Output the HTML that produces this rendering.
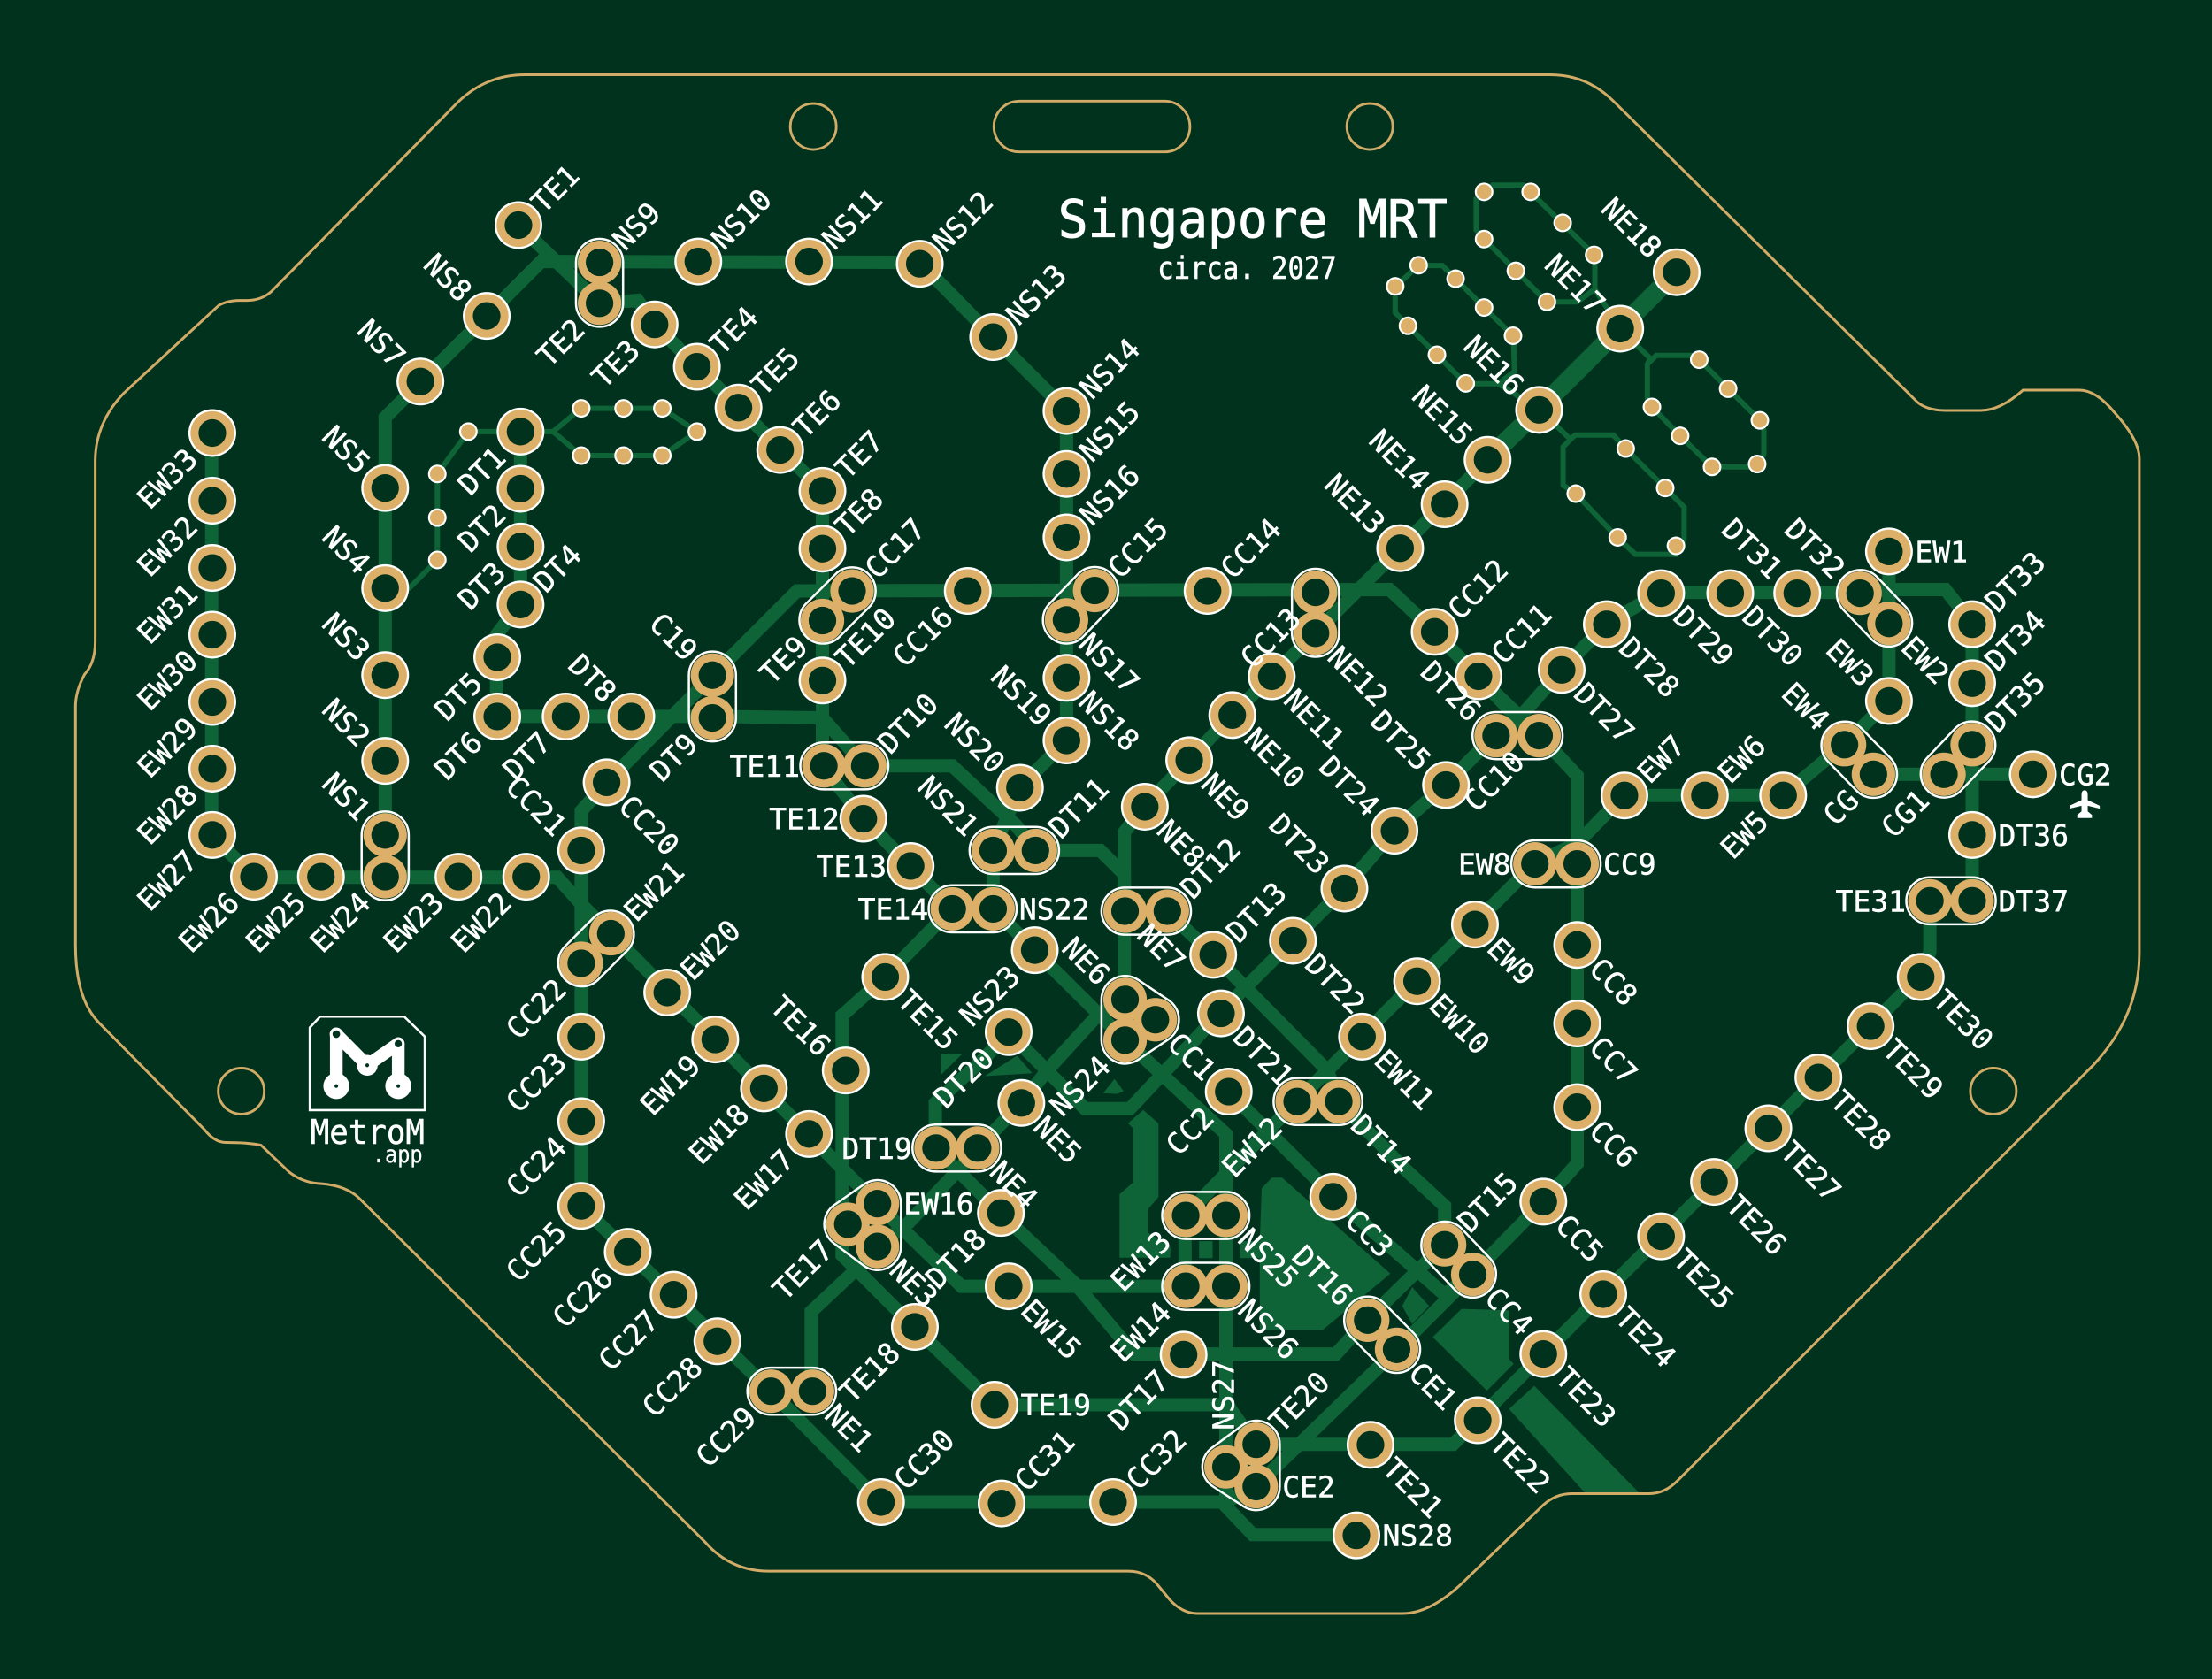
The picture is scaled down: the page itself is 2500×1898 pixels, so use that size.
<!DOCTYPE html>
<html lang="en">
<head>
<meta charset="utf-8">
<title>Singapore MRT PCB</title>
<style>
html,body{margin:0;padding:0;background:#01321e;width:2500px;height:1898px;overflow:hidden}
svg{display:block}
text{font-family:"DejaVu Sans Mono","Liberation Mono",monospace;fill:#fff}
</style>
</head>
<body>
<svg id="board" xmlns="http://www.w3.org/2000/svg" width="2500" height="1898" viewBox="0 0 2500 1898">
  <rect x="0" y="0" width="2500" height="1898" fill="#01321e"/>
  <g id="pours" fill="#0e6437"></g>
  <g id="tracks" fill="none" stroke="#0e6437" stroke-linejoin="miter"></g>
  <path id="outline" fill="none" stroke="#d2ab67" stroke-width="3"/>
  <g transform="scale(1.5944)">
    <g fill="none" stroke="#d2ab67" stroke-width="1.8">
      <circle cx="576.5" cy="89.7" r="16.3"/>
      <circle cx="971" cy="89.7" r="16.3"/>
      <circle cx="171" cy="773.6" r="16.3"/>
      <circle cx="1413" cy="773.6" r="16.3"/>
      <rect x="704.5" y="71.7" width="139" height="36" rx="18" ry="18"/>
    </g>
    <text x="750" y="168" font-size="37" stroke="#fff" stroke-width="0.6" textLength="276" lengthAdjust="spacingAndGlyphs">Singapore MRT</text>
    <text x="820.5" y="197.6" font-size="22" stroke="#fff" stroke-width="0.35" textLength="127" lengthAdjust="spacingAndGlyphs">circa. 2027</text>
    <g>
      <path d="M219.6 728.6 L226.9 720.8 L286.5 720.8 L301.1 734.9 L301.1 787.1 L219.6 787.1 Z" fill="none" stroke="#fff" stroke-width="1.6"/>
      <path d="M238.4 770 L238.4 733.2 L260.3 755.3 L282.3 740 L282.3 770" fill="none" stroke="#fff" stroke-width="9" stroke-linejoin="round"/>
      <circle cx="238.4" cy="770" r="9.2" fill="#fff"/>
      <circle cx="282.3" cy="770" r="9.2" fill="#fff"/>
      <circle cx="260.3" cy="755.3" r="7.4" fill="#fff"/>
      <circle cx="238.4" cy="733.2" r="4.7" fill="#fff"/>
      <circle cx="282.3" cy="740" r="4.5" fill="#fff"/>
      <circle cx="238.4" cy="733.2" r="2.7" fill="#01321e"/>
      <circle cx="282.3" cy="740" r="2.6" fill="#01321e"/>
      <circle cx="238.4" cy="770" r="1.3" fill="#01321e"/>
      <circle cx="282.3" cy="770" r="1.3" fill="#01321e"/>
      <circle cx="260.3" cy="755.3" r="1.3" fill="#01321e"/>
      <text x="220" y="811" font-size="24" stroke="#fff" stroke-width="0.3" textLength="81" lengthAdjust="spacingAndGlyphs">MetroM</text>
      <text x="264" y="824" font-size="17" stroke="#fff" stroke-width="0.2" textLength="35.5" lengthAdjust="spacingAndGlyphs">.app</text>
    </g>
    <path fill="#fff" d="M1477.7 560.3 q2.2 0 2.2 3 v4 l8.5 4 v2 l-8.5 -2 v4 l3 2.5 v2.2 h-10.4 v-2.2 l3 -2.5 v-4 l-8.5 2 v-2 l8.5 -4 v-4 q0 -3 2.2 -3 z"/>
  </g>
  <g id="vias"></g>
  <g id="outlines" fill="none" stroke="#fff" stroke-width="2.5"></g>
  <g id="pads"></g>
  <g id="labels"></g>
</svg>
<script>
// Station lists: name, board x, board y, label direction
const ewStations=[['EW1',1339,391,'r'],['EW2',1339,442,'dr'],['EW3',1339,497,'ul'],['EW4',1307.5,528,'ul'],['EW5',1264,564,'dl'],['EW6',1208.5,564,'ur'],['EW7',1151.5,564,'ur'],['EW8',1088,612.5,'l'],['EW9',1045.5,655.5,'dr'],['EW10',1004.5,695.7,'dr'],['EW11',965.5,735,'dr'],['EW12',919.5,781,'dl'],['EW13',840.5,861.8,'dl'],['EW14',840.5,912,'dl'],['EW15',715,912,'dr'],['EW16',622,853.4,'r'],['EW17',573.5,804,'dl'],['EW18',541.5,771.7,'dl'],['EW19',507,737,'dl'],['EW20',473,703.7,'ur'],['EW21',433,662,'ur'],['EW22',373,621.6,'dl'],['EW23',325,621.6,'dl'],['EW24',273,621.6,'dl'],['EW25',227.5,621.6,'dl'],['EW26',180,621.6,'dl'],['EW27',150.5,592,'dl'],['EW28',150.5,545,'dl'],['EW29',150.5,497.7,'dl'],['EW30',150.5,450,'dl'],['EW31',150.5,402.7,'dl'],['EW32',150.5,355,'dl'],['EW33',150.5,307,'dl']];
const cgStations=[['CG',1328,549,'dl'],['CG1',1378,549,'dl'],['CG2',1441,549,'r']];
const nsStations=[['NS1',273,592,'ul'],['NS2',273,539.5,'ul'],['NS3',273,478.7,'ul'],['NS4',273,417,'ul'],['NS5',273,346,'ul'],['NS7',298,270.5,'ul'],['NS8',345,224,'ul'],['NS9',425,186,'ur'],['NS10',495,185.4,'ur'],['NS11',573.5,185.4,'ur'],['NS12',652,187,'ur'],['NS13',704,239,'ur'],['NS14',756,291.4,'ur'],['NS15',756,336,'ur'],['NS16',756,381,'ur'],['NS17',756,439.6,'dr'],['NS18',756,480.6,'dr'],['NS19',756,525,'ul'],['NS20',723,558.5,'ul'],['NS21',704,603,'ul'],['NS22',704,644.4,'r'],['NS23',733.5,673.7,'dl'],['NS24',797.5,737.5,'dl'],['NS25',869,861.8,'dr'],['NS26',869,912,'dr'],['NS27',869,1040,'u'],['NS28',961.5,1088.6,'r']];
const neStations=[['NE1',576,986.4,'dr'],['NE3',622,883.8,'dr'],['NE4',693,814,'dr'],['NE5',724,782,'dr'],['NE6',797.5,708.6,'ul'],['NE7',797.5,646,'dr'],['NE8',811.5,572,'dr'],['NE9',843,539,'dr'],['NE10',873.5,507,'dr'],['NE11',901.5,479.5,'dr'],['NE12',932.5,449,'dr'],['NE13',992.5,388.7,'ul'],['NE14',1024,357.5,'ul'],['NE15',1054.5,326,'ul'],['NE16',1091,290.6,'ul'],['NE17',1148.5,233,'ul'],['NE18',1188.5,193,'ul']];
const ccStations=[['CC1',819,723,'dr'],['CC2',871,774,'dl'],['CC3',945,848.5,'dr'],['CC4',1044,903.6,'dr'],['CC5',1094,852,'dr'],['CC6',1118,785,'dr'],['CC7',1118,725.7,'dr'],['CC8',1118,670,'dr'],['CC9',1118,612.5,'r'],['CC10',1091,521.6,'dl'],['CC11',1048,479.5,'ur'],['CC12',1017,448,'ur'],['CC13',932.5,420,'dl'],['CC14',856,419,'ur'],['CC15',776,418.7,'ur'],['CC16',686,419,'dl'],['CC17',604,419,'ur'],['C19',505,478.7,'ul'],['CC20',430,554.7,'dr'],['CC21',412,603,'ul'],['CC22',412,683,'dl'],['CC23',412,735,'dl'],['CC24',412,795,'dl'],['CC25',412,855,'dl'],['CC26',445,887.6,'dl'],['CC27',477.5,918,'dl'],['CC28',508.5,951,'dl'],['CC29',546.5,986.4,'dl'],['CC30',624.5,1065,'ur'],['CC31',710,1066,'ur'],['CC32',789,1065,'ur']];
const ceStations=[['CE1',990,956.7,'dr'],['CE2',890.5,1054,'r']];
const dtStations=[['DT1',369,306,'dl'],['DT2',369,346.5,'dl'],['DT3',369,387.5,'dl'],['DT4',369,428.6,'ur'],['DT5',352.5,466,'dl'],['DT6',352.5,508,'dl'],['DT7',401,508,'dl'],['DT8',447.5,508,'ul'],['DT9',505,509,'dl'],['DT10',613,543,'ur'],['DT11',734,603,'ur'],['DT12',827.5,646,'ur'],['DT13',860,677,'ur'],['DT14',949,781,'dr'],['DT15',1024,882.6,'ur'],['DT16',969.5,936,'ul'],['DT17',839,960.5,'dl'],['DT18',709.5,860,'dl'],['DT19',663.5,814,'l'],['DT20',715,731.8,'dl'],['DT21',865.5,718.5,'dr'],['DT22',916.5,667,'dr'],['DT23',953,630,'ul'],['DT24',988.5,589,'ul'],['DT25',1025,556.6,'ul'],['DT26',1060.5,521.6,'ul'],['DT27',1107,475,'dr'],['DT28',1139,442.6,'dr'],['DT29',1177.5,420.6,'dr'],['DT30',1226.5,420.6,'dr'],['DT31',1274,420.6,'ul'],['DT32',1318.5,420.6,'ul'],['DT33',1398,442.6,'ur'],['DT34',1398,484.4,'ur'],['DT35',1398,528,'ur'],['DT36',1398,592,'r'],['DT37',1398,638.7,'r']];
const teStations=[['TE1',367.5,159.6,'ur'],['TE2',425,215,'dl'],['TE3',464,230,'dl'],['TE4',494,260,'ur'],['TE5',523.5,289,'ur'],['TE6',553,319,'ur'],['TE7',583,348,'ur'],['TE8',583,389,'ur'],['TE9',583,440,'dl'],['TE10',583,482.5,'ur'],['TE11',584,543,'l'],['TE12',612,580.5,'l'],['TE13',645.5,614,'l'],['TE14',675,644.4,'l'],['TE15',627.5,692.7,'dr'],['TE16',599.5,759,'ul'],['TE17',601,868,'dl'],['TE18',648.5,940.8,'dl'],['TE19',705,996,'r'],['TE20',890.5,1024,'ur'],['TE21',971.5,1024.4,'dr'],['TE22',1047.5,1007,'dr'],['TE23',1094,960,'dr'],['TE24',1136.5,917.6,'dr'],['TE25',1177.5,876.6,'dr'],['TE26',1215,838,'dr'],['TE27',1253.5,800,'dr'],['TE28',1289,764,'dr'],['TE29',1326,727.6,'dr'],['TE30',1361.5,692.7,'dr'],['TE31',1368,638.7,'l']];

// Interchanges sharing one white outline
const interchangePairs=[['NS9','TE2'],['NS1','EW24'],['TE9','CC17'],['C19','DT9'],['TE11','DT10'],['NS21','DT11'],['TE14','NS22'],['NE7','DT12'],['CC22','EW21'],['CC29','NE1'],['DT19','NE4'],['NS17','CC15'],['CC13','NE12'],['DT26','CC10'],['DT32','EW2'],['EW8','CC9'],['TE31','DT37'],['CG','EW4'],['CG1','DT35'],['DT14','EW12'],['EW13','NS25'],['EW14','NS26'],['DT15','CC4'],['DT16','CE1']];
const interchangeTriples=[['NE6','CC1','NS24'],['EW16','TE17','NE3'],['TE20','NS27','CE2']];

// Copper tracks
const nsTrack=[[273,620],[273,296],[345,224],[390,179]];
const nsTrackB=[[385,185.4],[652,186],[704,239],[756,291],[756,525],[723,558],[704,603],[704,644],[733.5,674],[797,737],[869,804],[869,1068],[888,1088],[961,1088]];
const neTrackThick=[[1188,193],[1148,233],[1091,290],[1054,326]];
const neTrack=[[1054,326],[1024,357],[992,389],[932,449],[901,480],[873,507],[843,539],[811,572],[797,590],[797,708],[777,721],[744,757],[724,782],[693,814],[677,832],[644,867],[622,884],[606,901],[575,930],[575,986]];
const ewTrack=[[1339,391],[1339,497],[1307,528],[1264,564],[1151,564],[1118,598],[1088,612],[965,735],[919,781],[840,862],[840,912],[681.6,912],[622,854],[507,737],[433,662],[412,641],[395,622],[180,622],[150,592],[150,307]];
const cgTrack=[[1328,549],[1441,549]];
const ccTrack=[[871,774],[945,848],[1024,918],[1044,903],[1094,852],[1118,825],[1118,550],[1091,521],[1048,480],[1017,448],[985,418],[565,419],[505,479],[430,555],[412,575],[412,855],[546,986],[624,1065],[869,1065],[890,1054]];
const ceTrack=[[1044,903],[990,957],[890,1054]];
const dtTrack=[[369,306],[369,428],[352,450],[352,508],[505,508],[583,509],[613,543],[675,543],[720,585],[734,603],[780,603],[797,620],[797,646],[827,646],[860,677],[941,759],[949,781],[995,828],[1024,855],[1024,882],[969,936],[947,960],[804,960],[763,911],[709,860],[663,814],[663,782],[698,750],[715,732],[769,786],[801,786],[865,718],[916,667],[953,630],[988,589],[1025,556],[1060,521],[1076,510],[1107,475],[1139,442],[1177,420],[1318,420],[1339,418],[1379,418],[1398,442],[1398,638]];
const dtBranch=[[1048,480],[1076,510],[1091,521]];
const teTrack=[[367,159],[425,215],[452,213],[464,230],[583,348],[583,543],[612,580],[645,614],[675,644],[627,693],[597,720],[597,890],[648,941],[705,996],[870,996],[890,1024],[1030,1024],[1047,1007],[1361,692],[1368,675],[1368,639]];
const thickTracks=[nsTrack,nsTrackB,neTrack,ewTrack,cgTrack,ccTrack,ceTrack,dtTrack,dtBranch,teTrack];

// Thin test-point loops
const thinLoopA=[[332,306],[369,306],[392,306],[412,289.5],[469.5,289.5],[494,306],[469.5,323],[412,323],[392,306]];
const thinLoopB=[[332,306],[310,336],[310,397],[290,417],[273,417]];
const thinLoopC=[[1096.6,214],[1052,169.5],[1046.4,163],[1046.4,141],[1058,131.3],[1080,131.3],[1085,136.3],[1130.5,181],[1130.5,205],[1148.5,233]];
const thinLoopD=[[1096.6,214],[1118,214],[1130.5,205]];
const thinLoopE=[[1039,272],[1062,272],[1073.6,263.4],[1072.8,238.4],[1052,218],[1031.8,197.6],[1022.4,188.2],[1005.6,188.2],[989,203.2],[989,221.6],[998,231],[1018.6,251.5],[1039,272]];
const thinLoopF=[[1062,272],[1091,290]];
const thinLoopG=[[1148,233],[1169.8,254],[1167.7,258.2],[1167.7,282.3],[1171,288.5],[1191,309],[1213.6,331],[1245.6,331],[1250.3,322],[1250.3,305.2],[1247.5,298],[1225,275.6],[1204.5,255],[1199,252],[1174,252],[1167.7,258.2]];
const thinLoopH=[[1091,290],[1113.3,311.5],[1108,316.8],[1108,344],[1117,350],[1146.7,381.4],[1159.3,393],[1188,393],[1193.8,382.6],[1193.8,359.6],[1180.4,346],[1152.4,318.2],[1143.6,308.4],[1116.5,308.4],[1108,316.8]];
const thinTracks=[thinLoopA,thinLoopB,thinLoopC,thinLoopD,thinLoopE,thinLoopF,thinLoopG,thinLoopH];

// Small plated vias
const viasWest=[[332,306],[310,336],[310,367],[310,397],[412,289.5],[442,289.5],[469.5,289.5],[494,306],[412,323],[442,323],[469.5,323]];
const viasNorth=[[1052,136],[1085,136],[1107.7,158],[1130,180.7],[1052,169.5],[1074.5,192],[1096.6,214]];
const viasMiddle=[[1005.6,188],[989,203],[1031.8,197.6],[1052,218],[1072.5,238],[998,231],[1018.6,251.5],[1039,271.8]];
const viasEast=[[1204.5,255],[1225,275.6],[1247.5,298],[1171,288.5],[1191,309],[1213.6,331],[1245.6,329]];
const viasSouth=[[1152.4,318],[1180.4,346],[1117,350],[1146.7,381],[1188,387]];

// Copper pour polygons
const pourWedge=[[894.4,842.5],[901.6,835],[908.8,835],[985.6,903],[937.6,943],[893,943],[893,892],[879,892],[879,880],[893,880]];
const pourBlock=[[1015.6,948],[1036,928],[1070,929],[1070,964],[1073,967],[1054,986]];
const pourBar=[[1069.6,999],[1087.6,982.6],[1162.5,1059],[1124,1059]];
const pourSpine=[[799.6,796.5],[810.4,787],[821.2,796.5],[821.2,848.8],[814,857],[814,874],[829.6,884],[829.6,891.7],[793.6,891.7],[793.6,846.7],[803.2,838.4],[803.2,800]];
const pourDiamond=[[1001,912.6],[1013,926],[1001,938.7],[994,926]];
const pourSpecA=[[667,747.4],[682,747.4],[667,762]];
const pourSpecB=[[698,763],[721,748.5],[731.7,761]];
const pourSpecC=[[782,775],[790,765],[796.5,773.6],[792,775.6]];
const pourSpecD=[[850,880],[859.6,880],[859.6,892],[850,892]];
const pourList=[pourWedge,pourBlock,pourBar,pourSpine,pourDiamond,pourSpecA,pourSpecB,pourSpecC,pourSpecD];

// Board edge: two numbers = line to, four numbers = quadratic curve
const edgeStart=[372,53];
const edgeSegments=[[1099,53],[1125,53,1144,72],[1359,285],[1366,291,1379,291],[1404,291],[1418,291,1434,276.6],[1474,276.6],[1486,276.6,1499,292.6],[1516.5,312,1516.5,325],[1516.5,676],[1516.5,720,1484,755],[1189,1050],[1180,1059,1169,1059],[1114,1059],[1103,1059,1094,1067],[1039,1120],[1015,1144,994,1144],[849,1144],[838,1144,829,1134],[820,1123],[812,1114,800,1114],[545,1114],[518,1114,500,1093.5],[255,850],[245,840,225,839],[214,838,205,831],[185,812],[176,810,160,810],[152,810,145,801],[70,725],[53.5,708,53.5,670],[53.5,501],[53.5,490,60,478],[67.5,470,67.5,455],[67.5,327],[67.5,300,87.5,279],[155,216.6],[161,213,170,213],[175,213],[185,213,192,207],[325,72],[345,53,372,53]];

const SCALE=2500/1568;
const NS='http://www.w3.org/2000/svg';
function sx(v){return v*SCALE;}
function sy(v){return v*SCALE;}
function pathFrom(points){return points.map(function(p,i){return (i?'L':'M')+sx(p[0]).toFixed(1)+' '+sy(p[1]).toFixed(1);}).join(' ');}
function make(tag,parent){var e=document.createElementNS(NS,tag);parent.appendChild(e);return e;}

// board edge
var edgeD='M'+sx(edgeStart[0])+' '+sy(edgeStart[1]);
edgeSegments.forEach(function(s){
  if(s.length===2){edgeD+=' L'+sx(s[0]).toFixed(1)+' '+sy(s[1]).toFixed(1);}
  else{edgeD+=' Q'+sx(s[0]).toFixed(1)+' '+sy(s[1]).toFixed(1)+' '+sx(s[2]).toFixed(1)+' '+sy(s[3]).toFixed(1);}
});
document.getElementById('outline').setAttribute('d',edgeD+' Z');

// pours
var pourGroup=document.getElementById('pours');
pourList.forEach(function(poly){
  var el=make('path',pourGroup);
  
  
  el.setAttribute('d',pathFrom(poly)+' Z');
});

// tracks
var trackGroup=document.getElementById('tracks');
function drawTrack(points,width){
  var el=make('path',trackGroup);
  
  
  el.setAttribute('d',pathFrom(points));
  el.setAttribute('stroke-width',width);
}
thinTracks.forEach(function(t){drawTrack(t,6);});
thickTracks.forEach(function(t){drawTrack(t,15);});
drawTrack(neTrackThick,21);

// vias
var viaGroup=document.getElementById('vias');
[viasWest,viasNorth,viasMiddle,viasEast,viasSouth].forEach(function(list){
  list.forEach(function(v){
    var ring=make('circle',viaGroup);
    
    
    ring.setAttribute('cx',sx(v[0]));ring.setAttribute('cy',sy(v[1]));
    ring.setAttribute('r',10.5);ring.setAttribute('fill','#fff');
    var core=make('circle',viaGroup);
    
    
    core.setAttribute('cx',sx(v[0]));core.setAttribute('cy',sy(v[1]));
    core.setAttribute('r',8.3);core.setAttribute('fill','#dcb069');
  });
});

// stations
var allStations=[].concat(ewStations,cgStations,nsStations,neStations,ccStations,ceStations,dtStations,teStations);
var lookup={};
allStations.forEach(function(s){lookup[s[0]]=s;});
var grouped={};
interchangePairs.concat(interchangeTriples).forEach(function(g){g.forEach(function(n){grouped[n]=true;});});

// interchange outlines (offset hull of the member pads)
var outlineGroup=document.getElementById('outlines');
function hullPath(names,r){
  var pts=names.map(function(n){return [sx(lookup[n][1]),sy(lookup[n][2])];});
  if(pts.length===3){
    var area=0;
    for(var k=0;k<3;k++){var a=pts[k],b=pts[(k+1)%3];area+=a[0]*b[1]-b[0]*a[1];}
    if(area<0)pts.reverse();
  }
  var d='';
  for(var i=0;i<pts.length;i++){
    var p=pts[i],q=pts[(i+1)%pts.length];
    var dx=q[0]-p[0],dy=q[1]-p[1],len=Math.hypot(dx,dy);
    var nx=dy/len*r,ny=-dx/len*r;
    var x1=(p[0]+nx).toFixed(1),y1=(p[1]+ny).toFixed(1),x2=(q[0]+nx).toFixed(1),y2=(q[1]+ny).toFixed(1);
    d+=(i?' A'+r+' '+r+' 0 0 1 '+x1+' '+y1:'M'+x1+' '+y1)+' L'+x2+' '+y2;
  }
  var f=pts[0],s=pts[1],ddx=s[0]-f[0],ddy=s[1]-f[1],l=Math.hypot(ddx,ddy);
  return d+' A'+r+' '+r+' 0 0 1 '+(f[0]+ddy/l*r).toFixed(1)+' '+(f[1]-ddx/l*r).toFixed(1);
}
interchangePairs.concat(interchangeTriples).forEach(function(g){
  var el=make('path',outlineGroup);
  
  
  el.setAttribute('d',hullPath(g,26.6));
});

// pads
var padGroup=document.getElementById('pads');
allStations.forEach(function(s){
  if(!grouped[s[0]]){
    var halo=make('circle',padGroup);
    
    
    halo.setAttribute('cx',sx(s[1]));halo.setAttribute('cy',sy(s[2]));
    halo.setAttribute('r',27);halo.setAttribute('fill','#fff');
  }
});
allStations.forEach(function(s){
  var ring=make('circle',padGroup);
  
  
  ring.setAttribute('cx',sx(s[1]));ring.setAttribute('cy',sy(s[2]));
  ring.setAttribute('r',24.6);ring.setAttribute('fill','#dcb069');
});
allStations.forEach(function(s){
  var hole=make('circle',padGroup);
  
  
  hole.setAttribute('cx',sx(s[1]));hole.setAttribute('cy',sy(s[2]));
  hole.setAttribute('r',15.6);hole.setAttribute('fill','#01321e');
});

// labels
var labelGroup=document.getElementById('labels');
var DIRS={
  ur:{dx:.7071,dy:-.7071,angle:-45,anchor:'start',gap:18},
  dr:{dx:.7071,dy:.7071,angle:45,anchor:'start',gap:18},
  ul:{dx:-.7071,dy:-.7071,angle:45,anchor:'end',gap:20},
  dl:{dx:-.7071,dy:.7071,angle:-45,anchor:'end',gap:20.5},
  r:{dx:1,dy:0,angle:0,anchor:'start',gap:18.5},
  l:{dx:-1,dy:0,angle:0,anchor:'end',gap:17},
  u:{dx:-.07,dy:-1,angle:-90,anchor:'start',gap:26}
};
allStations.forEach(function(s){
  var d=DIRS[s[3]];
  var x=sx(s[1]+d.dx*d.gap),y=sy(s[2]+d.dy*d.gap);
  var t=make('text',labelGroup);
  
  
  t.setAttribute('transform','translate('+x.toFixed(1)+' '+y.toFixed(1)+') rotate('+d.angle+')');
  t.setAttribute('text-anchor',d.anchor);
  t.setAttribute('y',12);
  t.setAttribute('font-size',33);
  t.setAttribute('stroke','#fff');
  t.setAttribute('stroke-width',0.5);
  t.textContent=s[0];
});
</script>
</body>
</html>
